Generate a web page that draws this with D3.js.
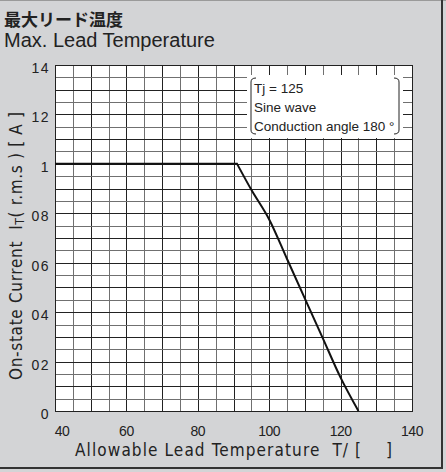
<!DOCTYPE html>
<html>
<head>
<meta charset="utf-8">
<script src="https://cdn.jsdelivr.net/npm/d3@7"></script>
<style>
  body { margin: 0; background: #d3d4d6; }
  svg { display: block; }
  .pre { white-space: pre; }
</style>
</head>
<body>
<script>
// data
const curveTemp = [40, 91, 95, 100, 105, 110, 115, 120, 125];
const curveCurrent = [1.0, 1.0, 0.895, 0.775, 0.615, 0.455, 0.295, 0.135, 0];
const xTicks = [40, 60, 80, 100, 120, 140];
const yTicks = [0, 0.2, 0.4, 0.6, 0.8, 1.0, 1.2, 1.4];
const yTickLabels = ["0", "02", "04", "06", "08", "1", "12", "14"];
const noteLines = ["Tj = 125", "Sine wave", "Conduction angle 180 °"];

const w = 446, h = 472;
const plotL = 55, plotR = 412, plotT = 65, plotB = 411;

const svg = d3.select("body").append("svg")
    .attr("width", w)
    .attr("height", h);

// background + frame
svg.append("rect").attr("width", w).attr("height", h).attr("fill", "#d3d4d6");
svg.append("line").attr("x1", 0).attr("x2", w).attr("y1", 0.5).attr("y2", 0.5)
    .attr("stroke", "#9a9a9a");
svg.append("line").attr("x1", 442).attr("x2", 442).attr("y1", 0).attr("y2", 469)
    .attr("stroke", "#333").attr("stroke-width", 2);
svg.append("line").attr("x1", 0).attr("x2", 443).attr("y1", 468).attr("y2", 468)
    .attr("stroke", "#333").attr("stroke-width", 2);

// titles
svg.append("text").attr("x", 4).attr("y", 26)
    .attr("font-family", "Noto Sans CJK JP").attr("font-weight", "bold")
    .attr("font-size", 17).attr("fill", "#222")
    .text("最大リード温度");
svg.append("text").attr("x", 4).attr("y", 47)
    .attr("font-family", "Liberation Sans").attr("font-size", 20).attr("fill", "#222")
    .text("Max. Lead Temperature");

const x = d3.scaleLinear().domain([40, 140]).range([plotL, plotR]);
const y = d3.scaleLinear().domain([0, 1.4]).range([plotB, plotT]);

// plot area
svg.append("rect")
    .attr("x", plotL).attr("y", plotT)
    .attr("width", plotR - plotL).attr("height", plotB - plotT)
    .attr("fill", "#fff");

const grid = svg.append("g");
const xGrid = d3.range(40, 140.1, 5);
const yGrid = d3.range(0, 1.401, 0.05);

grid.selectAll(".vx").data(xGrid).enter().append("line")
    .attr("x1", d => Math.round(x(d)) + 0.5).attr("x2", d => Math.round(x(d)) + 0.5)
    .attr("y1", plotT).attr("y2", plotB)
    .attr("stroke", d => d % 10 === 0 ? "#222" : "#707070");

grid.selectAll(".hy").data(yGrid).enter().append("line")
    .attr("x1", plotL).attr("x2", plotR)
    .attr("y1", d => Math.round(y(d)) + 0.5).attr("y2", d => Math.round(y(d)) + 0.5)
    .attr("stroke", (d, i) => i % 2 === 0 ? "#222" : "#707070");

// frame of plot
svg.append("rect")
    .attr("x", plotL + 0.5).attr("y", plotT + 0.5)
    .attr("width", plotR - plotL).attr("height", plotB - plotT)
    .attr("fill", "none").attr("stroke", "#222");

// note box
const note = svg.append("g");
note.append("rect")
    .attr("x", 247).attr("y", 75).attr("width", 156).attr("height", 63)
    .attr("fill", "#fff");
note.append("path")
    .attr("d", "M256,78 Q251,78 251,82 L251,130 Q251,134 256,134")
    .attr("fill", "none").attr("stroke", "#222").attr("stroke-width", 1);
note.append("path")
    .attr("d", "M394,78 Q399,78 399,82 L399,130 Q399,134 394,134")
    .attr("fill", "none").attr("stroke", "#222").attr("stroke-width", 1);
note.selectAll("text").data(noteLines).enter().append("text")
    .attr("x", 254)
    .attr("y", (d, i) => 93 + i * 19)
    .attr("font-family", "Liberation Sans").attr("font-size", 13.5)
    .attr("fill", "#222")
    .text(d => d);

// curve: flat part straight, falling part smoothed
const pts = curveTemp.map((t, i) => [t, curveCurrent[i]]);
const flat = d3.line().x(d => x(d[0])).y(d => y(d[1]));
const fall = d3.line().x(d => x(d[0])).y(d => y(d[1])).curve(d3.curveMonotoneX);
svg.append("path")
    .attr("d", flat(pts.slice(0, 2)) + fall(pts.slice(1)).replace(/^M/, "L"))
    .attr("fill", "none")
    .attr("stroke", "#111")
    .attr("stroke-width", 2);

// tick labels
svg.append("g").selectAll("text").data(xTicks).enter().append("text")
    .attr("x", (d, i) => x(d) + (i === 0 ? 7 : 0))
    .attr("y", 436)
    .attr("text-anchor", "middle")
    .attr("font-family", "Liberation Sans").attr("font-size", 14)
    .attr("letter-spacing", -0.5)
    .attr("fill", "#222")
    .text(d => d);

svg.append("g").selectAll("text").data(yTicks).enter().append("text")
    .attr("x", 50)
    .attr("y", d => y(d) + 8)
    .attr("text-anchor", "end")
    .attr("font-family", "Liberation Sans").attr("font-size", 14)
    .attr("letter-spacing", 1.5)
    .attr("fill", "#222")
    .text((d, i) => yTickLabels[i]);

// axis titles
svg.append("text")
    .attr("class", "pre")
    .attr("x", 75).attr("y", 456)
    .attr("font-family", "DejaVu Sans Condensed, DejaVu Sans").attr("font-size", 17)
    .attr("textLength", 317).attr("lengthAdjust", "spacing")
    .attr("fill", "#222")
    .text("Allowable Lead Temperature  T/ [    ]");

const yl = svg.append("text")
    .attr("class", "pre")
    .attr("transform", "translate(22,380) rotate(-90)")
    .attr("font-family", "DejaVu Sans Condensed, DejaVu Sans").attr("font-size", 17)
    .attr("textLength", 268).attr("lengthAdjust", "spacing")
    .attr("fill", "#222");
yl.append("tspan").text("On-state Current  I");
yl.append("tspan").attr("font-size", 12).attr("dy", 2).text("T");
yl.append("tspan").attr("dy", -2).text("( r.m.s ) [ A ]");
</script>
</body>
</html>
